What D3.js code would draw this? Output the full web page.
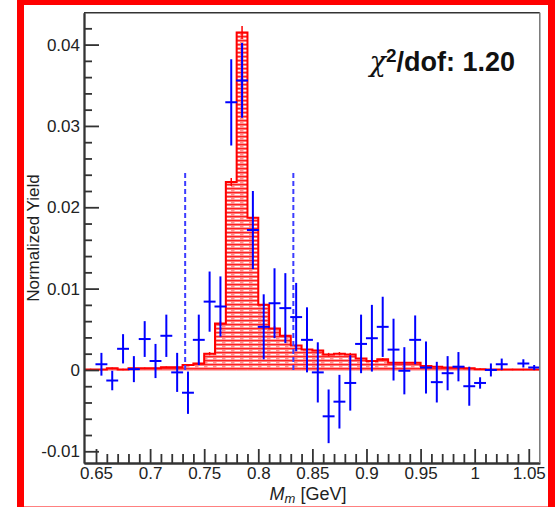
<!DOCTYPE html>
<html>
<head>
<meta charset="utf-8">
<script src="https://cdn.jsdelivr.net/npm/d3@7"></script>
<style>
  body { margin: 0; background: #fff; }
  svg { display: block; font-family: "Liberation Sans", Arial, sans-serif; }
  .axis text { font-size: 17px; fill: #222; }
  .axis line, .axis path { stroke: #333; stroke-width: 1.8; }
</style>
</head>
<body>
<svg id="chart" width="559" height="507"></svg>
<script>
// histogram (fit template), 0.01 GeV bins, lower edges
var histEdges = [0.63, 0.64, 0.65, 0.66, 0.67, 0.68, 0.69, 0.70, 0.71, 0.72, 0.73, 0.74, 0.75, 0.76,
                 0.77, 0.78, 0.79, 0.80, 0.81, 0.82, 0.83, 0.84, 0.85, 0.86, 0.87, 0.88, 0.89, 0.90,
                 0.91, 0.92, 0.93, 0.94, 0.95, 0.96, 0.97, 0.98, 0.99, 1.00, 1.01, 1.02, 1.03, 1.04, 1.05];
var histVals = [0.00005, 0.00005, 0.00005, 0.0002, 0.00005, 0.0002, 0.0002, 0.0002, 0.00033, 0.00033,
                0.0006, 0.0008, 0.0020, 0.0057, 0.0231, 0.0415, 0.0187, 0.0080, 0.0051, 0.0042,
                0.0030, 0.0025, 0.0024, 0.0019, 0.0020, 0.0019, 0.0014, 0.0011, 0.0013, 0.0009,
                0.0009, 0.0009, 0.0005, 0.0004, 0.0003, 0.0003, 0.0002, 0.0001, 0.00005, 0.00005,
                0.00005, 0.00005, 0.00005];
var histErr = [0.0001, 0.0001, 0.0001, 0.0001, 0.0001, 0.0001, 0.0001, 0.0001, 0.0001, 0.0001,
               0.0001, 0.00015, 0.0002, 0.0003, 0.0005, 0.0008, 0.0004, 0.0003, 0.0003, 0.00025,
               0.0002, 0.0002, 0.0002, 0.0002, 0.0002, 0.0002, 0.00015, 0.00015, 0.00015, 0.0001,
               0.0001, 0.0001, 0.0001, 0.0001, 0.0001, 0.0001, 0.0001, 0.0001, 0.0001, 0.0001,
               0.0001, 0.0001, 0.0001];

// data points
var dataX = [0.655, 0.665, 0.675, 0.685, 0.695, 0.705, 0.715, 0.725, 0.735, 0.745, 0.755, 0.765,
             0.775, 0.785, 0.795, 0.805, 0.815, 0.825, 0.835, 0.845, 0.855, 0.865, 0.875, 0.885,
             0.895, 0.905, 0.915, 0.925, 0.935, 0.945, 0.955, 0.965, 0.975, 0.985, 0.995, 1.005,
             1.015, 1.025, 1.045, 1.055];
var dataY = [0.0007, -0.0013, 0.0026, 0.0001, 0.0038, 0.0011, 0.0042, -0.0003, -0.0028, 0.0037,
             0.0084, 0.0078, 0.0329, 0.0356, 0.0172, 0.0053, 0.0082, 0.0076, 0.0065, 0.0037,
             -0.0003, -0.0057, -0.0039, -0.0016, 0.0032, 0.0039, 0.0053, 0.0025, -0.0001, 0.0037,
             0.0003, -0.0015, -0.0004, 0.0004, -0.0020, -0.0016, 0.0000, 0.0007, 0.0008, 0.0003];
var dataErr = [0.0014, 0.0012, 0.0018, 0.0016, 0.0022, 0.0021, 0.0026, 0.0024, 0.0026, 0.0031,
               0.0037, 0.0037, 0.0053, 0.0046, 0.0048, 0.0040, 0.0043, 0.0043, 0.0042, 0.0040,
               0.0037, 0.0033, 0.0033, 0.0034, 0.0036, 0.0041, 0.0037, 0.0038, 0.0029, 0.0030,
               0.0032, 0.0025, 0.0021, 0.0018, 0.0024, 0.0007, 0.0008, 0.0007, 0.0005, 0.0003];

// mass window lines
var windowX = [0.7324, 0.8324];
var windowTop = 0.0243;

var xMajor = [0.65, 0.7, 0.75, 0.8, 0.85, 0.9, 0.95, 1.0, 1.05];
var yMajor = [-0.01, 0, 0.01, 0.02, 0.03, 0.04];
var chiText = "1.20";

var svg = d3.select("#chart");
var mLeft = 84, mRight = 539.8, mTop = 12.7, mBottom = 463;

var x = d3.scaleLinear().domain([0.6389, 1.0602]).range([mLeft, mRight]);
var y = d3.scaleLinear().domain([-0.01144, 0.04392]).range([mBottom, mTop]);

// hatch pattern for the template
var defs = svg.append("defs");
var pat = defs.append("pattern").attr("id", "hatch")
    .attr("width", 9).attr("height", 4).attr("patternUnits", "userSpaceOnUse");
pat.append("rect").attr("width", 9).attr("height", 4).attr("fill", "#ff9090");
pat.append("line").attr("x1", 0).attr("x2", 9).attr("y1", 0.6).attr("y2", 0.6)
    .attr("stroke", "#f22").attr("stroke-width", 1.2);
pat.append("line").attr("x1", 0.5).attr("x2", 6).attr("y1", 2.6).attr("y2", 2.6)
    .attr("stroke", "#fff").attr("stroke-width", 1.2);
defs.append("clipPath").attr("id", "plotclip").append("rect")
    .attr("x", mLeft).attr("y", mTop).attr("width", mRight - mLeft).attr("height", mBottom - mTop);

// outer red border
svg.append("rect").attr("x", 20.5).attr("y", 1.5).attr("width", 531).attr("height", 508.5)
    .attr("fill", "none").attr("stroke", "#f00").attr("stroke-width", 7);

var plot = svg.append("g").attr("clip-path", "url(#plotclip)");

// histogram
var steps = histEdges.map(function (e, i) { return {e: e, v: histVals[i]}; });
steps.push({e: 1.06, v: histVals[histVals.length - 1]});

var area = d3.area().curve(d3.curveStepAfter)
    .x(function (d) { return x(d.e); })
    .y0(y(0))
    .y1(function (d) { return y(d.v); });
var line = d3.line().curve(d3.curveStepAfter)
    .x(function (d) { return x(d.e); })
    .y(function (d) { return y(d.v); });

plot.append("path").attr("d", area(steps)).attr("fill", "url(#hatch)");
plot.append("path").attr("d", area(steps)).attr("fill", "none")
    .attr("stroke", "#f55").attr("stroke-width", 1);
plot.append("path").attr("d", line(steps)).attr("fill", "none")
    .attr("stroke", "#f00").attr("stroke-width", 2);

plot.selectAll(".herr").data(histEdges).enter().append("line")
    .attr("class", "herr")
    .attr("x1", function (d) { return x(d + 0.005); })
    .attr("x2", function (d) { return x(d + 0.005); })
    .attr("y1", function (d, i) { return y(histVals[i] - histErr[i]); })
    .attr("y2", function (d, i) { return y(histVals[i] + histErr[i]); })
    .attr("stroke", "#f00").attr("stroke-width", 1.5);

// window lines
plot.selectAll(".win").data(windowX).enter().append("line")
    .attr("x1", function (d) { return x(d); })
    .attr("x2", function (d) { return x(d); })
    .attr("y1", y(0)).attr("y2", y(windowTop))
    .attr("stroke", "#3c3cff").attr("stroke-width", 2)
    .attr("stroke-dasharray", "5,3");

// data points
var pts = plot.selectAll(".pt").data(dataX).enter().append("g").attr("class", "pt");
pts.append("line")
    .attr("x1", function (d) { return x(d); })
    .attr("x2", function (d) { return x(d); })
    .attr("y1", function (d, i) { return y(dataY[i] - dataErr[i]); })
    .attr("y2", function (d, i) { return y(dataY[i] + dataErr[i]); })
    .attr("stroke", "#00f").attr("stroke-width", 2);
pts.append("line")
    .attr("x1", function (d) { return x(d - 0.0055); })
    .attr("x2", function (d) { return x(d + 0.0055); })
    .attr("y1", function (d, i) { return y(dataY[i]); })
    .attr("y2", function (d, i) { return y(dataY[i]); })
    .attr("stroke", "#00f").attr("stroke-width", 2);

// axes
var xMinor = d3.range(65, 106).map(function (d) { return d / 100; })
    .filter(function (d) { return Math.round(d * 100) % 5 !== 0; });
var yMinor = d3.range(-5, 22).map(function (d) { return d * 0.002; })
    .filter(function (d) { return Math.round(d * 1000) % 10 !== 0; });

svg.append("g").attr("class", "axis").attr("transform", "translate(0," + mBottom + ")")
    .call(d3.axisBottom(x).tickValues(xMinor).tickSize(-9).tickSizeOuter(0).tickFormat(""));
svg.append("g").attr("class", "axis").attr("transform", "translate(0," + mBottom + ")")
    .call(d3.axisBottom(x).tickValues(xMajor).tickSize(-14).tickSizeOuter(0).tickPadding(4)
        .tickFormat(function (d) { return String(+d.toFixed(2)); }));

svg.append("g").attr("class", "axis").attr("transform", "translate(" + mLeft + ",0)")
    .call(d3.axisLeft(y).tickValues(yMinor).tickSize(-8).tickSizeOuter(0).tickFormat(""));
svg.append("g").attr("class", "axis").attr("transform", "translate(" + mLeft + ",0)")
    .call(d3.axisLeft(y).tickValues(yMajor).tickSize(-15).tickSizeOuter(0).tickPadding(4)
        .tickFormat(function (d) { return String(+d.toFixed(2)); }));

// frame top / right
svg.append("line").attr("x1", mLeft).attr("x2", mRight).attr("y1", mTop).attr("y2", mTop)
    .attr("stroke", "#333").attr("stroke-width", 1.6);
svg.append("line").attr("x1", mRight).attr("x2", mRight).attr("y1", mTop).attr("y2", mBottom)
    .attr("stroke", "#777").attr("stroke-width", 1.5);

// axis titles
var xt = svg.append("text").attr("x", 308).attr("y", 499.5).attr("text-anchor", "middle")
    .style("font-size", "18px").attr("fill", "#222");
xt.append("tspan").style("font-style", "italic").text("M");
xt.append("tspan").style("font-style", "italic").style("font-size", "13px").attr("dy", 3).text("m");
xt.append("tspan").attr("dy", -3).text(" [GeV]");

svg.append("text").attr("transform", "translate(39,238) rotate(-90)")
    .attr("text-anchor", "middle").style("font-size", "17px").attr("fill", "#222")
    .text("Normalized Yield");

// chi2 label
var ct = svg.append("text").attr("x", 515).attr("y", 70.7).attr("text-anchor", "end")
    .attr("fill", "#111");
ct.append("tspan").style("font-family", "'DejaVu Serif', serif").style("font-style", "italic")
    .style("font-size", "27px").text("\u03c7");
ct.append("tspan").style("font-weight", "bold").style("font-size", "19px").attr("dy", -9).text("2");
ct.append("tspan").style("font-weight", "bold").style("font-size", "27px").attr("dy", 9)
    .text("/dof: " + chiText);
</script>
</body>
</html>
